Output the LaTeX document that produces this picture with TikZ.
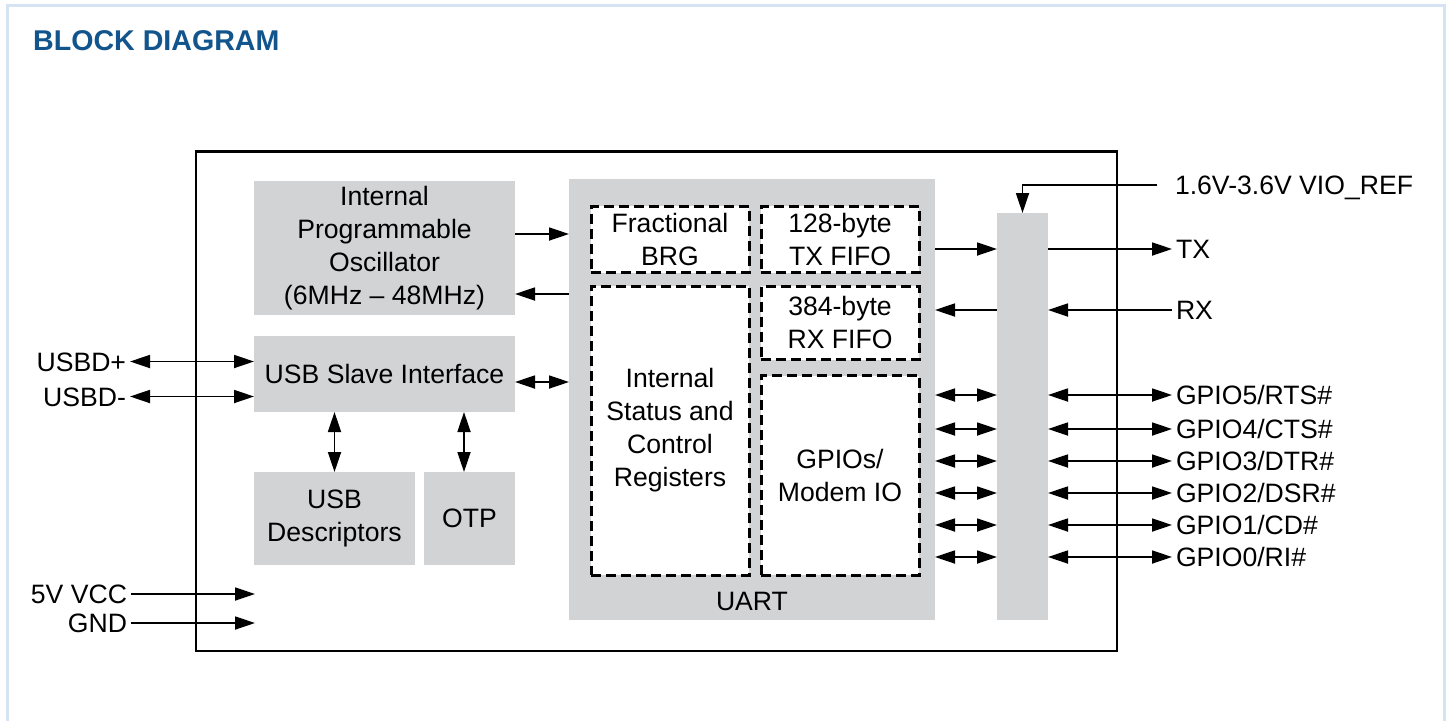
\documentclass[tikz,border=0pt]{standalone}
\usepackage{fontspec}
\setmainfont{Liberation Sans}
\usetikzlibrary{arrows.meta}
\definecolor{blockgray}{RGB}{209,211,212}
\definecolor{titleblue}{RGB}{18,84,140}
\definecolor{framecol}{RGB}{214,227,242}
\newcommand{\mainfs}{\fontsize{26.6}{33}\selectfont}
\tikzset{
  gbox/.style={fill=blockgray, draw=none, align=center, inner sep=0pt, outer sep=0pt, font=\mainfs},
  dbox/.style={draw=black, fill=white, line width=3pt, dash pattern=on 10pt off 5pt, align=center, inner sep=0pt, outer sep=0pt, font=\mainfs},
  conn/.style={line width=1.8pt},
  arr/.style={conn, -{Triangle[length=20pt,width=13pt]}},
  darr/.style={conn, {Triangle[length=20pt,width=13pt]}-{Triangle[length=20pt,width=13pt]}},
  lbl/.style={font=\mainfs, inner xsep=4pt, inner ysep=0pt, outer sep=0pt, text height=19pt, text depth=0pt},
}
\begin{document}
\begin{tikzpicture}[x=1pt,y=-1pt]
\useasboundingbox (0,0) rectangle (1449,721);
% outer light frame
\draw[framecol, line width=3pt] (7.5,721) -- (7.5,5.5) -- (1444.5,5.5) -- (1444.5,721);
\node[anchor=base west, inner sep=0pt, font=\fontsize{28.6}{34}\selectfont\bfseries, text=titleblue] (title) at (33,50.7) {BLOCK DIAGRAM};
% chip outline
\node[draw=black, line width=2.8pt, minimum width=921pt, minimum height=499.5pt, inner sep=0pt, outer sep=0pt] (chip) at (656.5,401.25) {};
% gray blocks
\node[gbox, minimum width=261pt, minimum height=134pt] (osc) at (384.5,248) {Internal\\Programmable\\Oscillator\\(6MHz -- 48MHz)};
\node[gbox, minimum width=261pt, minimum height=76pt] (usb) at (384.5,374) {USB Slave Interface};
\node[gbox, minimum width=161pt, minimum height=93pt] (desc) at (334.5,518.5) {USB\\Descriptors};
\node[gbox, minimum width=91pt, minimum height=93pt] (otp) at (469.5,518.5) {OTP};
\node[gbox, minimum width=366pt, minimum height=441pt] (uart) at (752,399.5) {};
\node[font=\mainfs, inner sep=0pt, text height=19pt, text depth=0pt] (uartlbl) at (752,601) {UART};
\node[gbox, minimum width=51pt, minimum height=407pt] (bar) at (1022.5,416.5) {};
% dashed blocks inside UART
\node[dbox, minimum width=158pt, minimum height=66.5pt] (brg) at (670,239.25) {Fractional\\BRG};
\node[dbox, minimum width=158pt, minimum height=66.5pt] (txf) at (840,239.25) {128-byte\\TX FIFO};
\node[dbox, minimum width=158pt, minimum height=73.5pt] (rxf) at (840,322.75) {384-byte\\RX FIFO};
\node[dbox, minimum width=158pt, minimum height=289pt] (isc) at (670,430.5) {Internal\\Status and\\Control\\Registers};
\node[dbox, minimum width=158pt, minimum height=199.5pt] (gpio) at (840,475.25) {GPIOs/\\Modem IO};
% left labels
\node[lbl, anchor=east] (usbp) at (130,361.5) {USBD+};
\node[lbl, anchor=east] (usbm) at (130,396.5) {USBD-};
\node[lbl, anchor=east] (vcc) at (131,594) {5V VCC};
\node[lbl, anchor=east] (gnd) at (131,623) {GND};
\coordinate (vccin) at (255,594);
\coordinate (gndin) at (255,623);
% right labels
\node[lbl, anchor=west] (vio) at (1171,185) {1.6V-3.6V VIO\_REF};
\node[lbl, anchor=west] (tx) at (1172,249) {TX};
\node[lbl, anchor=west] (rx) at (1172,310) {RX};
\node[lbl, anchor=west] (g5) at (1172,395) {GPIO5/RTS\#};
\node[lbl, anchor=west] (g4) at (1172,429) {GPIO4/CTS\#};
\node[lbl, anchor=west] (g3) at (1172,461) {GPIO3/DTR\#};
\node[lbl, anchor=west] (g2) at (1172,493) {GPIO2/DSR\#};
\node[lbl, anchor=west] (g1) at (1172,525) {GPIO1/CD\#};
\node[lbl, anchor=west] (g0) at (1172,557) {GPIO0/RI\#};
% row helpers
\coordinate (rosc1) at (0,234);
\coordinate (rosc2) at (0,294);
\coordinate (rusb) at (0,382);
% connectors
\draw[darr] (usbp.east) -- (usb.west |- usbp);
\draw[darr] (usbm.east) -- (usb.west |- usbm);
\draw[arr] (vcc.east) -- (vccin);
\draw[arr] (gnd.east) -- (gndin);
\draw[arr] (osc.east |- rosc1) -- (uart.west |- rosc1);
\draw[arr] (uart.west |- rosc2) -- (osc.east |- rosc2);
\draw[darr] (usb.east |- rusb) -- (uart.west |- rusb);
\draw[darr] (desc.north) -- (desc.north |- usb.south);
\draw[darr] ([xshift=-5.5pt]otp.north) -- ([xshift=-5.5pt]otp.north |- usb.south);
\draw[arr] ([xshift=-14pt]vio.west) -| (bar.north);
\draw[arr] (uart.east |- tx) -- (bar.west |- tx);
\draw[arr] (bar.east |- tx) -- (tx.west);
\draw[arr] (bar.west |- rx) -- (uart.east |- rx);
\draw[arr] (rx.west) -- (bar.east |- rx);
\foreach \g in {g5,g4,g3,g2,g1,g0}{
  \draw[darr] (uart.east |- \g) -- (bar.west |- \g);
  \draw[darr] (bar.east |- \g) -- (\g.west);
}
\end{tikzpicture}
\end{document}
